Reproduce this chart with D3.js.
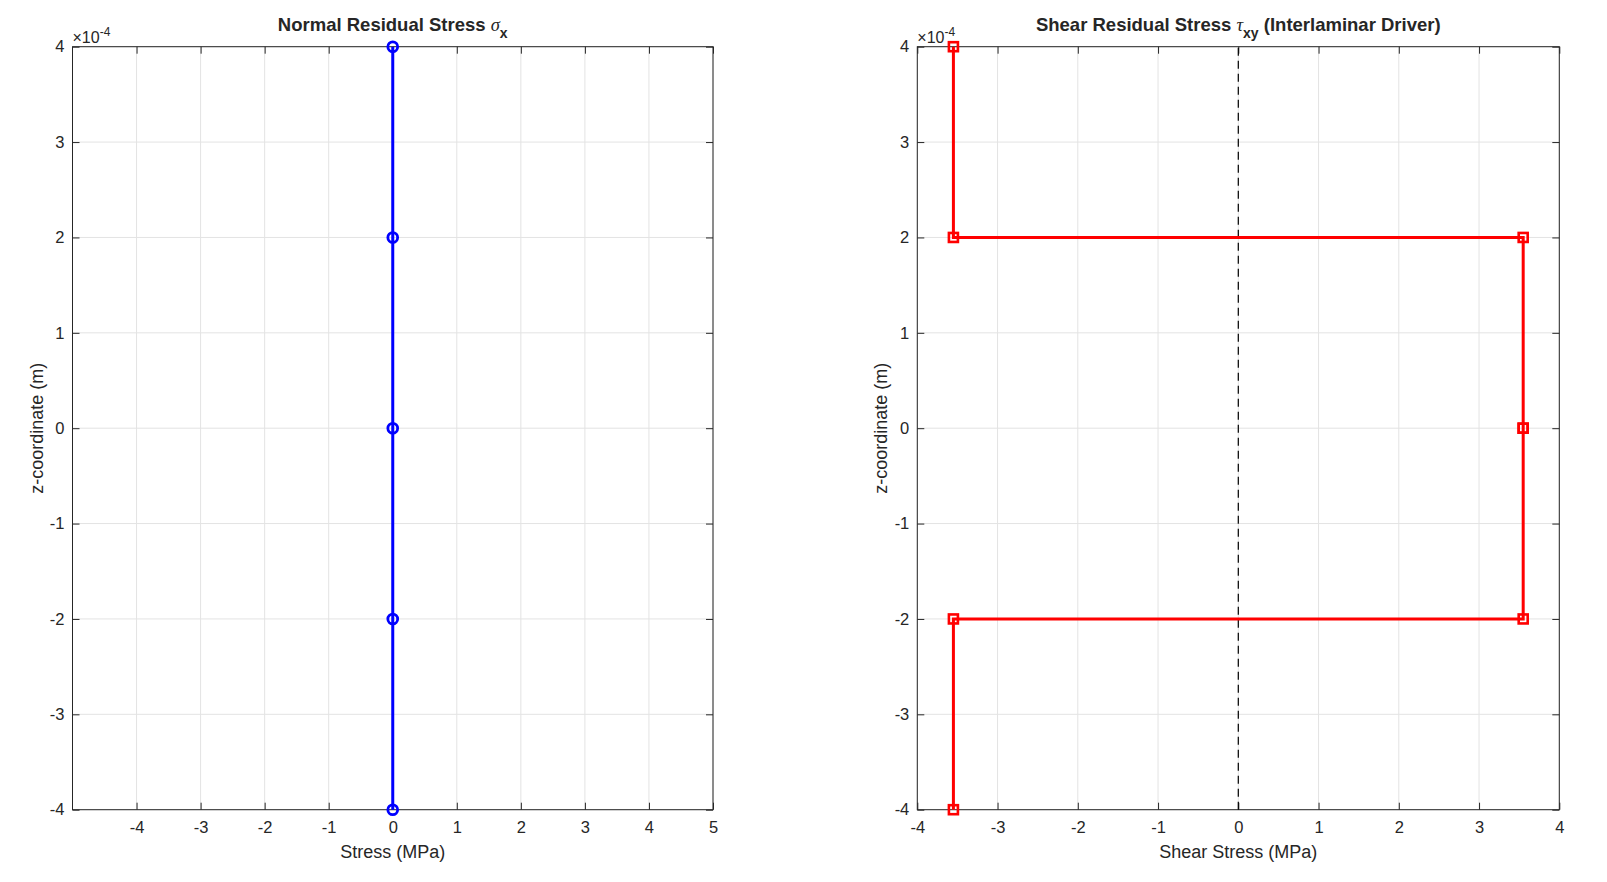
<!DOCTYPE html>
<html>
<head>
<meta charset="utf-8">
<script src="https://cdn.jsdelivr.net/npm/d3@7"></script>
<style>
  body { margin: 0; background: #fff; }
  svg { display: block; }
  text { font-family: "Liberation Sans", Arial, Helvetica, sans-serif; fill: #262626; }
</style>
</head>
<body>
<div id="chart"></div>
<script>
// layer interface coordinates (m) and stresses (MPa)
const zNodes = [-4e-4, -2e-4, 0, 2e-4, 4e-4];
const normalStress = [0, 0, 0, 0, 0];
const shearZ = [-4e-4, -2e-4, -2e-4, 0, 0, 2e-4, 2e-4, 4e-4];
const shearStress = [-3.55, -3.55, 3.55, 3.55, 3.55, 3.55, -3.55, -3.55];
const normalTicks = [-4, -3, -2, -1, 0, 1, 2, 3, 4, 5];
const shearTicks = [-4, -3, -2, -1, 0, 1, 2, 3, 4];
const zTicks = [-4e-4, -3e-4, -2e-4, -1e-4, 0, 1e-4, 2e-4, 3e-4, 4e-4];

const W = 1607, H = 882;
const plotTop = 46.7, plotBottom = 809.7, tickLen = 7;
const fmtZ = d => String(Math.round(d / 1e-4));
const fmtX = d => String(d);

const svg = d3.select("#chart").append("svg").attr("width", W).attr("height", H);

function panel(opt) {
    const x = d3.scaleLinear().domain(opt.xDomain).range([opt.left, opt.right]);
    const y = d3.scaleLinear().domain([-4e-4, 4e-4]).range([plotBottom, plotTop]);
    const g = svg.append("g");

    // grid
    g.append("g").selectAll("line").data(opt.xTicks).enter().append("line")
        .attr("x1", d => x(d)).attr("x2", d => x(d)).attr("y1", plotTop).attr("y2", plotBottom)
        .attr("stroke", "#e3e3e3").attr("stroke-width", 1);
    g.append("g").selectAll("line").data(zTicks).enter().append("line")
        .attr("x1", opt.left).attr("x2", opt.right).attr("y1", d => y(d)).attr("y2", d => y(d))
        .attr("stroke", "#e3e3e3").attr("stroke-width", 1);

    // axes, ticks pointing inward
    const ax = [
        [d3.axisBottom(x).tickValues(opt.xTicks).tickFormat(fmtX), `translate(0,${plotBottom})`],
        [d3.axisTop(x).tickValues(opt.xTicks).tickFormat(""), `translate(0,${plotTop})`],
        [d3.axisLeft(y).tickValues(zTicks).tickFormat(fmtZ), `translate(${opt.left},0)`],
        [d3.axisRight(y).tickValues(zTicks).tickFormat(""), `translate(${opt.right},0)`]
    ];
    ax.forEach(([a, t], i) => {
        const s = g.append("g").attr("transform", t)
            .call(a.tickSize(-tickLen).tickSizeOuter(0).tickPadding(i === 0 ? 12 : 8));
        s.select(".domain").remove();
        s.selectAll(".tick line").attr("stroke", "#262626");
        s.selectAll(".tick text").attr("font-size", 16.5).attr("fill", "#262626")
            .style("font-family", "'Liberation Sans', Arial, sans-serif");
    });
    g.append("rect").attr("x", opt.left).attr("y", plotTop)
        .attr("width", opt.right - opt.left).attr("height", plotBottom - plotTop)
        .attr("fill", "none").attr("stroke", "#262626").attr("stroke-width", 1);

    // exponent label
    const ex = g.append("text").attr("x", opt.left).attr("y", plotTop - 4).attr("font-size", 16).attr("fill", "#262626");
    ex.append("tspan").text("\u00d710");
    ex.append("tspan").attr("font-size", 12).attr("dy", -7).text("-4");

    // labels
    g.append("text").attr("x", (opt.left + opt.right) / 2).attr("y", 858)
        .attr("text-anchor", "middle").attr("font-size", 18).text(opt.xLabel);
    g.append("text").attr("transform", `translate(${opt.left - 30},${(plotTop + plotBottom) / 2}) rotate(-90)`)
        .attr("text-anchor", "middle").attr("font-size", 18).text("z-coordinate (m)");

    const t = g.append("text").attr("x", (opt.left + opt.right) / 2).attr("y", 31)
        .attr("text-anchor", "middle").attr("font-size", 18.5).attr("font-weight", "bold");
    opt.title(t);

    return { x, y, g };
}

// left panel: normal stress
const p1 = panel({
    left: 72.5, right: 713, xDomain: [-5, 5], xTicks: normalTicks,
    xLabel: "Stress (MPa)",
    title: t => {
        t.append("tspan").text("Normal Residual Stress ");
        t.append("tspan").attr("font-weight", "normal").attr("font-style", "italic")
            .style("font-family", "'Liberation Serif', 'Times New Roman', serif").text("\u03c3");
        t.append("tspan").attr("dy", 7).attr("font-size", 14).text("x");
    }
});
const normalPts = zNodes.map((z, i) => [normalStress[i], z]);
p1.g.append("path").datum(normalPts)
    .attr("d", d3.line().x(d => p1.x(d[0])).y(d => p1.y(d[1])))
    .attr("fill", "none").attr("stroke", "#0000ff").attr("stroke-width", 3);
p1.g.append("g").selectAll("circle").data(normalPts).enter().append("circle")
    .attr("cx", d => p1.x(d[0])).attr("cy", d => p1.y(d[1])).attr("r", 4.9)
    .attr("fill", "none").attr("stroke", "#0000ff").attr("stroke-width", 2.8);

// right panel: shear stress
const p2 = panel({
    left: 917.3, right: 1559.3, xDomain: [-4, 4], xTicks: shearTicks,
    xLabel: "Shear Stress (MPa)",
    title: t => {
        t.append("tspan").text("Shear Residual Stress ");
        t.append("tspan").attr("font-weight", "normal").attr("font-style", "italic")
            .style("font-family", "'Liberation Serif', 'Times New Roman', serif").text("\u03c4");
        t.append("tspan").attr("dy", 7).attr("font-size", 14).text("xy");
        t.append("tspan").attr("dy", -7).text(" (Interlaminar Driver)");
    }
});
p2.g.append("line")
    .attr("x1", p2.x(0)).attr("x2", p2.x(0)).attr("y1", p2.y(-4e-4)).attr("y2", p2.y(4e-4))
    .attr("stroke", "#000").attr("stroke-width", 1.2).attr("stroke-dasharray", "8,5");
const shearPts = shearZ.map((z, i) => [shearStress[i], z]);
p2.g.append("path").datum(shearPts)
    .attr("d", d3.line().x(d => p2.x(d[0])).y(d => p2.y(d[1])))
    .attr("fill", "none").attr("stroke", "#ff0000").attr("stroke-width", 3);
p2.g.append("g").selectAll("rect").data(shearPts).enter().append("rect")
    .attr("x", d => p2.x(d[0]) - 4.5).attr("y", d => p2.y(d[1]) - 4.5)
    .attr("width", 9).attr("height", 9)
    .attr("fill", "none").attr("stroke", "#ff0000").attr("stroke-width", 2.6);
</script>
</body>
</html>
